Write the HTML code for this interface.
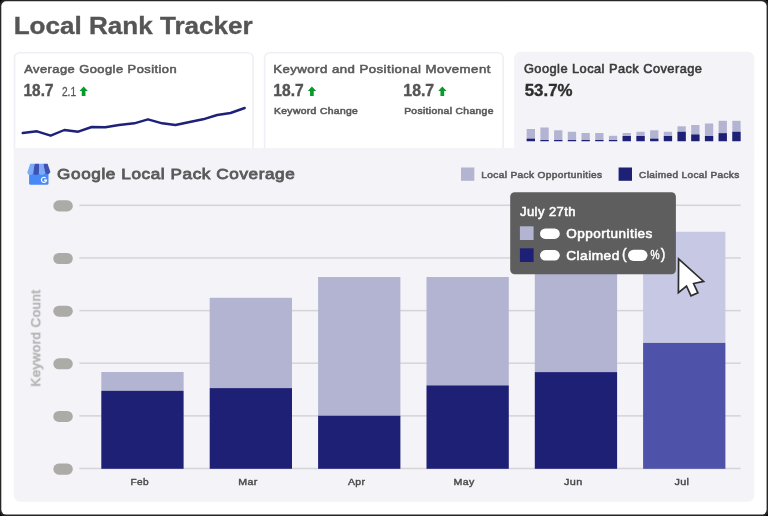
<!DOCTYPE html>
<html>
<head>
<meta charset="utf-8">
<style>
html,body{margin:0;padding:0;}
body{width:768px;height:516px;background:#000;position:relative;overflow:hidden;font-family:"Liberation Sans",sans-serif;}
.abs{position:absolute;}
.t{position:absolute;left:0;top:0;white-space:nowrap;line-height:1;transform-origin:0 0;}
.bd{-webkit-text-stroke:0.35px currentColor;}
.md{-webkit-text-stroke:0.55px currentColor;letter-spacing:0.035em;}
.xl{font-size:10px;color:#4a4a4a;-webkit-text-stroke:0.4px currentColor;letter-spacing:0.03em;}
</style>
</head>
<body>
<svg class="abs" style="left:0;top:0" width="768" height="516"><rect x="0" y="0" width="768" height="516" rx="4" fill="#262626"/><rect x="1.3" y="1.3" width="765.3" height="513.3" rx="5" fill="#fff"/></svg>
<div id="root" style="position:absolute;left:0;top:0;width:768px;height:516px;will-change:transform;">

<svg class="abs" style="left:0;top:0" width="768" height="516">
  <rect x="14.5" y="52.7" width="238.45" height="110" rx="5" fill="#fff" stroke="#efeff5" stroke-width="1.6"/>
  <rect x="264.6" y="52.8" width="238.55" height="110" rx="5" fill="#fff" stroke="#efeff5" stroke-width="1.6"/>
  <path d="M514.2 160 V58.3 a6.5 6.5 0 0 1 6.5 -6.5 H747.8 a6.5 6.5 0 0 1 6.5 6.5 V160 Z" fill="#f3f3f8"/>
  <path d="M13.8 148.1 H754.3 V495.2 a6.5 6.5 0 0 1 -6.5 6.5 H20.3 a6.5 6.5 0 0 1 -6.5 -6.5 Z" fill="#f3f3f8"/>
</svg>
<!-- title -->
<span class="t" id="title" style="-webkit-text-stroke:0.35px #555;font-size:23.92px;font-weight:bold;color:#555;transform:translate(13.67px,14px) scaleX(1.09);">Local Rank Tracker</span>

<!-- card 1 -->
<span class="t md" id="c1t" style="font-size:11.72px;color:#595959;transform:translate(24.23px,63px) scaleX(1.101);">Average Google Position</span>
<span class="t bd" id="c1v" style="font-size:16.02px;font-weight:bold;color:#555;transform:translate(23.57px,82px) scaleX(0.958);">18.7</span>
<span class="t" id="c1s" style="-webkit-text-stroke:0.3px #555;font-size:12.8px;color:#555;transform:translate(61.91px,86px) scaleX(0.794);">2.1</span>
<svg class="abs" style="left:0;top:0" width="768" height="516">
  <g fill="#0a9a2c">
    <path id="ar1" d="M83.6 86.4 L87.9 90.9 L85.45 90.9 L85.45 96 L81.75 96 L81.75 90.9 L79.5 90.9 Z"/>
  </g>
  <polyline fill="none" stroke="#1f2079" stroke-width="2.4" stroke-linejoin="round" stroke-linecap="round"
   points="22.7,133 37,131.3 50.7,135.7 64.3,130 78.2,131.7 91.7,127 105.3,127.3 119,125 134.3,123.3 148,119.3 162.2,123.3 175.5,125 189.7,122 203,119.3 217.2,115 230.5,113 244.7,108"/>
</svg>

<!-- card 2 -->
<span class="t md" id="c2t" style="font-size:11.72px;color:#595959;transform:translate(273.15px,63px) scaleX(1.127);">Keyword and Positional Movement</span>
<span class="t bd" id="c2v1" style="font-size:16.02px;font-weight:bold;color:#555;transform:translate(273.35px,82px) scaleX(0.975);">18.7</span>
<span class="t bd" id="c2v2" style="font-size:16.02px;font-weight:bold;color:#555;transform:translate(403.35px,82px) scaleX(0.989);">18.7</span>
<span class="t md" id="c2l1" style="font-size:8.63px;color:#5a5a5a;transform:translate(274.02px,107px) scaleX(1.196);">Keyword Change</span>
<span class="t md" id="c2l2" style="font-size:8.63px;color:#5a5a5a;transform:translate(404.15px,107px) scaleX(1.192);">Positional Change</span>
<svg class="abs" style="left:0;top:0" width="768" height="516">
  <g fill="#0a9a2c">
    <path transform="translate(228.3 0)" d="M83.6 86.4 L87.9 90.9 L85.45 90.9 L85.45 96 L81.75 96 L81.75 90.9 L79.5 90.9 Z"/>
    <path transform="translate(358.7 0)" d="M83.6 86.4 L87.9 90.9 L85.45 90.9 L85.45 96 L81.75 96 L81.75 90.9 L79.5 90.9 Z"/>
  </g>
</svg>

<!-- card 3 -->
<span class="t md" id="c3t" style="font-size:12.06px;color:#3a3a3a;transform:translate(523.95px,63px) scaleX(1.064);">Google Local Pack Coverage</span>
<span class="t bd" id="c3v" style="font-size:15.97px;font-weight:bold;color:#2e2e2e;transform:translate(524.73px,83px) scaleX(1.056);">53.7%</span>

<!-- panel -->
<svg class="abs" style="left:0;top:0" width="768" height="516">
<rect x="526.7" y="129" width="8.3" height="12.2" fill="#b3b4d2"/>
<rect x="526.7" y="138.7" width="8.3" height="2.5" fill="#1e2076"/>
<rect x="540.4" y="127.5" width="8.3" height="13.7" fill="#b3b4d2"/>
<rect x="540.4" y="140" width="8.3" height="1.2" fill="#1e2076"/>
<rect x="554.1" y="130.3" width="8.3" height="10.9" fill="#b3b4d2"/>
<rect x="554.1" y="140" width="8.3" height="1.2" fill="#1e2076"/>
<rect x="567.8" y="131.8" width="8.3" height="9.4" fill="#b3b4d2"/>
<rect x="567.8" y="140" width="8.3" height="1.2" fill="#1e2076"/>
<rect x="581.5" y="133" width="8.3" height="8.2" fill="#b3b4d2"/>
<rect x="581.5" y="140" width="8.3" height="1.2" fill="#1e2076"/>
<rect x="595.2" y="133" width="8.3" height="8.2" fill="#b3b4d2"/>
<rect x="595.2" y="140" width="8.3" height="1.2" fill="#1e2076"/>
<rect x="608.9" y="135.8" width="8.3" height="5.4" fill="#b3b4d2"/>
<rect x="608.9" y="140" width="8.3" height="1.2" fill="#1e2076"/>
<rect x="622.6" y="133" width="8.3" height="8.2" fill="#b3b4d2"/>
<rect x="622.6" y="136" width="8.3" height="5.2" fill="#1e2076"/>
<rect x="636.4" y="131.8" width="8.3" height="9.4" fill="#b3b4d2"/>
<rect x="636.4" y="136" width="8.3" height="5.2" fill="#1e2076"/>
<rect x="650.1" y="130.3" width="8.3" height="10.9" fill="#b3b4d2"/>
<rect x="650.1" y="138.7" width="8.3" height="2.5" fill="#1e2076"/>
<rect x="663.8" y="131.8" width="8.3" height="9.4" fill="#b3b4d2"/>
<rect x="663.8" y="136" width="8.3" height="5.2" fill="#1e2076"/>
<rect x="677.5" y="126.3" width="8.3" height="14.9" fill="#b3b4d2"/>
<rect x="677.5" y="131.8" width="8.3" height="9.4" fill="#1e2076"/>
<rect x="691.2" y="125" width="8.3" height="16.2" fill="#b3b4d2"/>
<rect x="691.2" y="134.5" width="8.3" height="6.7" fill="#1e2076"/>
<rect x="704.9" y="123.5" width="8.3" height="17.7" fill="#b3b4d2"/>
<rect x="704.9" y="136" width="8.3" height="5.2" fill="#1e2076"/>
<rect x="718.6" y="120.8" width="8.3" height="20.4" fill="#b3b4d2"/>
<rect x="718.6" y="133.2" width="8.3" height="8.0" fill="#1e2076"/>
<rect x="732.3" y="120.8" width="8.3" height="20.4" fill="#b3b4d2"/>
<rect x="732.3" y="131.8" width="8.3" height="9.4" fill="#1e2076"/>
</svg>

<!-- heading -->
<svg class="abs" style="left:27px;top:163px" width="24" height="23" viewBox="0 0 24 23">
  <path d="M2.1 10 H21.5 V20.2 a1.6 1.6 0 0 1 -1.6 1.6 H3.7 a1.6 1.6 0 0 1 -1.6 -1.6 Z" fill="#4989f5"/>
  <path d="M3.2 0.8 L7.6 0.8 L6.2 9 a2.9 2.9 0 0 1 -5.8 0 Z" fill="#7babf7"/>
  <path d="M7.6 0.8 L12 0.8 L12 9 a2.9 2.9 0 0 1 -5.8 0 Z" fill="#3f51b5"/>
  <path d="M12 0.8 L16.4 0.8 L17.8 9 a2.9 2.9 0 0 1 -5.8 0 Z" fill="#7babf7"/>
  <path d="M16.4 0.8 L20.6 0.8 L23.4 9 a2.9 2.9 0 0 1 -5.6 0 Z" fill="#3f51b5"/>
  <path d="M18.75 15.0 A2.55 2.55 0 1 0 19.55 17.15 H17.0" fill="none" stroke="#fff" stroke-width="1.15"/>
</svg>
<span class="t md" id="hd" style="-webkit-text-stroke-width:0.8px;font-size:14.79px;color:#5a5a5a;transform:translate(57.11px,167px) scaleX(1.158);">Google Local Pack Coverage</span>

<!-- legend -->
<svg class="abs" style="left:0;top:0" width="768" height="516"><rect x="461" y="167.5" width="13.3" height="13.3" fill="#b3b4d2"/><rect x="618.6" y="167.5" width="13.4" height="13.3" fill="#1e2076"/></svg>
<span class="t md" id="lg1" style="font-size:9.45px;color:#5a5a5a;transform:translate(481.32px,170px) scaleX(1.073);">Local Pack Opportunities</span>
<span class="t md" id="lg2" style="font-size:9.45px;color:#5a5a5a;transform:translate(639.12px,170px) scaleX(1.064);">Claimed Local Packs</span>

<!-- chart -->
<svg class="abs" style="left:0;top:0" width="768" height="516">
<rect x="79.3" y="204.55" width="661.4" height="1.5" fill="#d5d5d7"/>
<rect x="53.3" y="200.35" width="19.5" height="11.1" rx="5.55" fill="#acaba8"/>
<rect x="79.3" y="257.15" width="661.4" height="1.5" fill="#d5d5d7"/>
<rect x="53.3" y="252.95" width="19.5" height="11.1" rx="5.55" fill="#acaba8"/>
<rect x="79.3" y="309.85" width="661.4" height="1.5" fill="#d5d5d7"/>
<rect x="53.3" y="305.65" width="19.5" height="11.1" rx="5.55" fill="#acaba8"/>
<rect x="79.3" y="362.45" width="661.4" height="1.5" fill="#d5d5d7"/>
<rect x="53.3" y="358.25" width="19.5" height="11.1" rx="5.55" fill="#acaba8"/>
<rect x="79.3" y="415.10" width="661.4" height="1.5" fill="#d5d5d7"/>
<rect x="53.3" y="410.90" width="19.5" height="11.1" rx="5.55" fill="#acaba8"/>
<rect x="79.3" y="467.75" width="661.4" height="1.5" fill="#d5d5d7"/>
<rect x="53.3" y="463.55" width="19.5" height="11.1" rx="5.55" fill="#acaba8"/>
<rect x="101.3" y="372" width="82.3" height="18.8" fill="#b3b4d2"/><rect x="101.3" y="390.8" width="82.3" height="78.0" fill="#1e2076"/>
<rect x="209.7" y="297.8" width="82.3" height="90.3" fill="#b3b4d2"/><rect x="209.7" y="388.1" width="82.3" height="80.7" fill="#1e2076"/>
<rect x="318.1" y="277" width="82.3" height="138.7" fill="#b3b4d2"/><rect x="318.1" y="415.7" width="82.3" height="53.1" fill="#1e2076"/>
<rect x="426.5" y="277" width="82.3" height="108.4" fill="#b3b4d2"/><rect x="426.5" y="385.4" width="82.3" height="83.4" fill="#1e2076"/>
<rect x="534.8" y="232" width="82.3" height="140.1" fill="#b3b4d2"/><rect x="534.8" y="372.1" width="82.3" height="96.7" fill="#1e2076"/>
<rect x="643.1" y="231.8" width="82.3" height="111.1" fill="#c7c8e3"/><rect x="643.1" y="342.9" width="82.3" height="125.9" fill="#4f52a9"/>
</svg>
<span class="t xl" id="xl0" style="font-size:9.18px;transform:translate(130.58px,478px) scaleX(1.099);">Feb</span>
<span class="t xl" id="xl1" style="font-size:9.18px;transform:translate(238.36px,478px) scaleX(1.158);">Mar</span>
<span class="t xl" id="xl2" style="font-size:9.18px;transform:translate(348.05px,478px) scaleX(1.14);">Apr</span>
<span class="t xl" id="xl3" style="font-size:9.18px;transform:translate(453.62px,478px) scaleX(1.156);">May</span>
<span class="t xl" id="xl4" style="font-size:9.18px;transform:translate(564.02px,478px) scaleX(1.185);">Jun</span>
<span class="t xl" id="xl5" style="font-size:9.18px;transform:translate(674.53px,478px) scaleX(1.181);">Jul</span>

<span class="t md" id="yl" style="font-size:11.9px;color:#b2b2b2;will-change:transform;transform:translate(31.2px,386.6px) rotate(-90deg) scaleX(1.12);">Keyword Count</span>

<!-- tooltip -->
<svg class="abs" style="left:0;top:0" width="768" height="516">
  <rect x="510.2" y="192.2" width="165.7" height="82" rx="4.5" fill="#5e5e5e"/>
  <rect x="519.9" y="226.3" width="13.7" height="13.7" fill="#b3b4d2"/>
  <rect x="519.9" y="248.3" width="13.7" height="13.7" fill="#1e2076"/>
  <rect x="540" y="228.4" width="19.8" height="10.5" rx="5.25" fill="#fff"/>
  <rect x="540" y="250.1" width="19.8" height="10.5" rx="5.25" fill="#fff"/>
  <rect x="628" y="249.8" width="19.5" height="11.1" rx="5.55" fill="#fff"/>
</svg>
<span class="t md" id="tt0" style="font-size:12.5px;color:#fff;transform:translate(519.96px,206px) scaleX(1.039);">July 27th</span>
<span class="t md" id="tt1" style="font-size:12.58px;color:#fff;transform:translate(566.33px,228px) scaleX(1.074);">Opportunities</span>
<span class="t md" id="tt2" style="font-size:12.5px;color:#fff;transform:translate(566.22px,250px) scaleX(1.095);">Claimed</span>
<span class="t" id="tt3" style="font-size:14px;color:#fff;-webkit-text-stroke:0.4px #fff;transform:translate(622px,247px);">(</span>
<span class="t" id="tt4" style="font-size:12.8px;color:#fff;-webkit-text-stroke:0.45px #fff;transform:translate(650.6px,249px) scaleX(0.8);">%</span>
<span class="t" id="tt5" style="font-size:14px;color:#fff;-webkit-text-stroke:0.4px #fff;transform:translate(660.8px,247px);">)</span>

<!-- cursor -->
<svg class="abs" style="left:0;top:0" width="768" height="516">
  <path d="M678.6 258.8 L678.4 292.6 L686.5 286.0 L691.0 295.9 L697.9 292.9 L693.6 283.5 L703.6 281.4 Z" fill="#fff" stroke="#2d2d2d" stroke-width="1.7" stroke-linejoin="miter"/>
</svg>

</div>
</body>
</html>
